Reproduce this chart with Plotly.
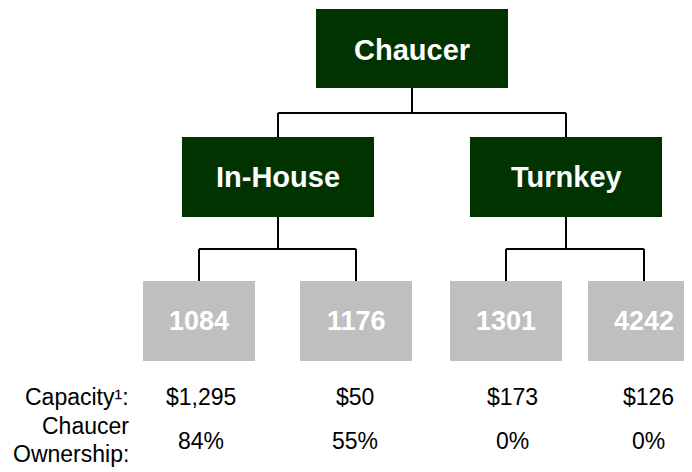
import plotly.graph_objects as go

# ---- data ----
root_label = "Chaucer"
group_labels = ["In-House", "Turnkey"]
leaf_labels = ["1084", "1176", "1301", "4242"]
leaf_parent = [0, 0, 1, 1]
capacity = [1295, 50, 173, 126]
ownership = [84, 55, 0, 0]
capacity_label = "Capacity¹:"
ownership_label = ["Chaucer", "Ownership:"]

# ---- layout constants (page-pixel coordinates) ----
W, H = 692, 472
PAGE_OFFSET = 8  # default page body margin
GREEN = "#003300"
GREY = "#BFBFBF"
FONT = "Liberation Sans, Arial, sans-serif"

root_cx, root_w, root_y0, root_y1 = 412, 192, 9, 88
group_cx = [278, 566]
group_w, group_y0, group_y1 = 192, 137, 217
leaf_cx = [199, 356, 506, 644]
leaf_w, leaf_y0, leaf_y1 = 112, 281, 361
root_bus_y = 113
group_bus_y = 249
value_cx = [201, 355, 512, 648]
cap_y = 397
own_y = 441
own_label_y = [426, 454]
label_x = 131

fig = go.Figure()
shapes = []
annotations = []

def box(cx, w, y0, y1, color):
    shapes.append(dict(type="rect", xref="x", yref="y", x0=cx - w / 2, x1=cx + w / 2,
                       y0=y0, y1=y1, fillcolor=color, line=dict(width=0), layer="above"))

def line(x0, y0, x1, y1):
    shapes.append(dict(type="line", xref="x", yref="y", x0=x0, y0=y0, x1=x1, y1=y1,
                       line=dict(color="black", width=2), layer="below"))

def text(x, y, s, size, color="black", bold=False, xanchor="center"):
    annotations.append(dict(x=x, y=y, text=f"<b>{s}</b>" if bold else s, showarrow=False,
                            xanchor=xanchor, yanchor="middle", align=xanchor if xanchor != "center" else "center",
                            font=dict(family=FONT, size=size, color=color)))

# connectors root -> groups
line(root_cx, root_y1, root_cx, root_bus_y)
line(group_cx[0], root_bus_y, group_cx[-1], root_bus_y)
for gx in group_cx:
    line(gx, root_bus_y, gx, group_y0)

# connectors groups -> leaves
for gi, gx in enumerate(group_cx):
    kids = [leaf_cx[i] for i, p in enumerate(leaf_parent) if p == gi]
    line(gx, group_y1, gx, group_bus_y)
    line(min(kids), group_bus_y, max(kids), group_bus_y)
    for kx in kids:
        line(kx, group_bus_y, kx, leaf_y0)

# boxes
box(root_cx, root_w, root_y0, root_y1, GREEN)
text(root_cx, (root_y0 + root_y1) / 2 + 1.5, root_label, 29, "white", bold=True)
for gx, lab in zip(group_cx, group_labels):
    box(gx, group_w, group_y0, group_y1, GREEN)
    text(gx, (group_y0 + group_y1) / 2, lab, 29, "white", bold=True)
for lx, lab in zip(leaf_cx, leaf_labels):
    box(lx, leaf_w, leaf_y0, leaf_y1, GREY)
    text(lx, (leaf_y0 + leaf_y1) / 2, lab, 27, "white", bold=True)

# row labels
text(label_x, cap_y, capacity_label, 23, xanchor="right")
for yy, s in zip(own_label_y, ownership_label):
    text(label_x, yy, s, 23, xanchor="right")

# values
for vx, c, o in zip(value_cx, capacity, ownership):
    text(vx, cap_y, f"${c:,}", 23)
    text(vx, own_y, f"{o}%", 23)

fig.update_layout(
    width=W, height=H,
    margin=dict(l=0, r=0, t=0, b=0),
    paper_bgcolor="white", plot_bgcolor="white",
    xaxis=dict(range=[PAGE_OFFSET, W + PAGE_OFFSET], visible=False, fixedrange=True),
    yaxis=dict(range=[H + PAGE_OFFSET, PAGE_OFFSET], visible=False, fixedrange=True),
    shapes=shapes, annotations=annotations, showlegend=False,
)

fig.write_html("out.html")
